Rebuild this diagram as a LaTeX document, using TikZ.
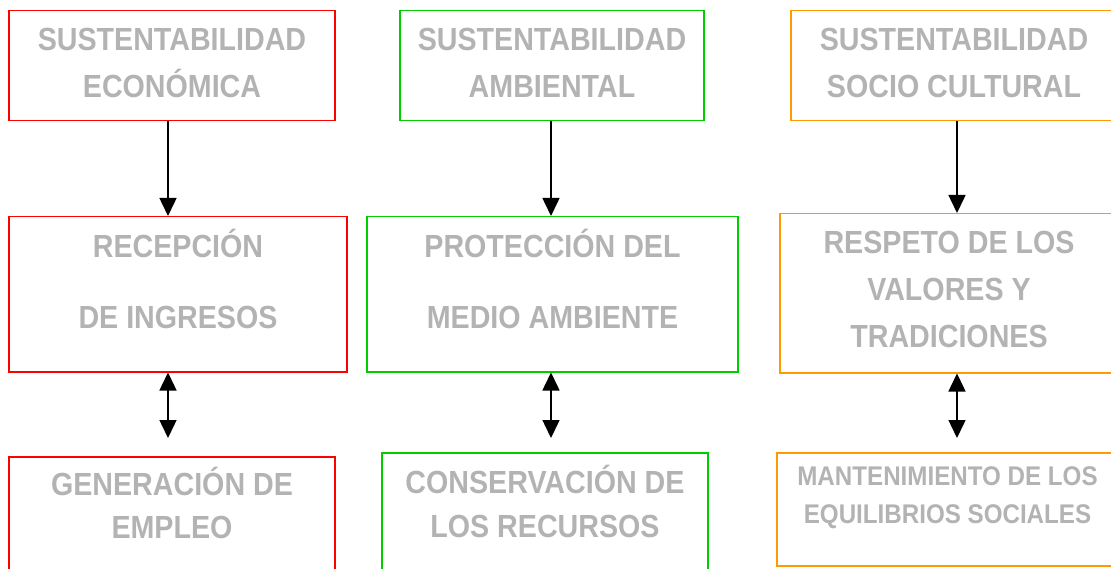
\documentclass[tikz,border=0pt]{standalone}
\usepackage{fontspec}
\usetikzlibrary{arrows.meta}
\newfontfamily\boxfont{Liberation Sans}[FakeStretch=0.895]
\definecolor{txtgray}{RGB}{179,179,179}
\definecolor{ecored}{RGB}{255,0,0}
\definecolor{ambgreen}{RGB}{0,204,0}
\definecolor{socorange}{RGB}{255,153,0}
\tikzset{
  box/.style={draw=#1, line width=1.5pt, anchor=north, align=center,
    inner xsep=0pt, inner ysep=0pt, text=txtgray,
    font=\boxfont\bfseries\fontsize{32}{47}\selectfont},
  lead/.style={font=\boxfont\bfseries\fontsize{32}{#1}\selectfont},
  link/.style={line width=1.5pt, -{Triangle[length=18pt,width=17pt]}},
  twoway/.style={line width=1.5pt,
    {Triangle[length=18pt,width=17pt]}-{Triangle[length=18pt,width=17pt]}}
}
\begin{document}
\begin{tikzpicture}[x=1pt,y=-1pt]
  \useasboundingbox (0,0) rectangle (1111,569);
  \clip (0,0) rectangle (1111,569);
  % first row
  \node (eco) [box=ecored, minimum width=326pt, text height=87pt, text depth=23pt]
    at (172,10) {SUSTENTABILIDAD\\ECONÓMICA};
  \node (amb) [box=ambgreen, minimum width=304pt, text height=87pt, text depth=23pt]
    at (552,10) {SUSTENTABILIDAD\\AMBIENTAL};
  \node (soc) [box=socorange, minimum width=326pt, text height=87pt, text depth=23pt]
    at (954,10) {SUSTENTABILIDAD\\SOCIO CULTURAL};
  % second row
  \node (ing) [box=ecored, lead=71pt, minimum width=338pt, text height=112pt, text depth=43pt]
    at (178,216) {RECEPCIÓN\\DE INGRESOS};
  \node (med) [box=ambgreen, lead=71pt, minimum width=371pt, text height=112pt, text depth=43pt]
    at (552.5,216) {PROTECCIÓN DEL\\MEDIO AMBIENTE};
  \node (val) [box=socorange, minimum width=338pt, text height=134pt, text depth=25pt]
    at (949,213) {RESPETO DE LOS\\VALORES Y\\TRADICIONES};
  % third row
  \node (emp) [box=ecored, lead=43pt, minimum width=326pt, text height=82pt, text depth=57pt]
    at (172,456) {GENERACIÓN DE\\EMPLEO};
  \node (rec) [box=ambgreen, lead=44pt, minimum width=326pt, text height=85pt, text depth=66pt]
    at (545,452) {CONSERVACIÓN DE\\LOS RECURSOS};
  \node (equ) [box=socorange, font=\boxfont\bfseries\fontsize{27}{38}\selectfont,
    minimum width=341pt, text height=71pt, text depth=42pt]
    at (947.5,452) {MANTENIMIENTO DE LOS\\EQUILIBRIOS SOCIALES};
  % arrows
  \draw[link] ([xshift=-4pt]eco.south) -- ([xshift=-4pt]eco.south |- ing.north);
  \draw[link] ([xshift=-1pt]amb.south) -- ([xshift=-1pt]amb.south |- med.north);
  \draw[link] ([xshift=3pt]soc.south) -- ([xshift=3pt]soc.south |- val.north);
  \draw[twoway, shorten >=18pt] ([xshift=-10pt]ing.south) -- ([xshift=-10pt]ing.south |- emp.north);
  \draw[twoway, shorten >=14pt] ([xshift=-1.5pt]med.south) -- ([xshift=-1.5pt]med.south |- rec.north);
  \draw[twoway, shorten >=14pt] ([xshift=8pt]val.south) -- ([xshift=8pt]val.south |- equ.north);
\end{tikzpicture}
\end{document}
